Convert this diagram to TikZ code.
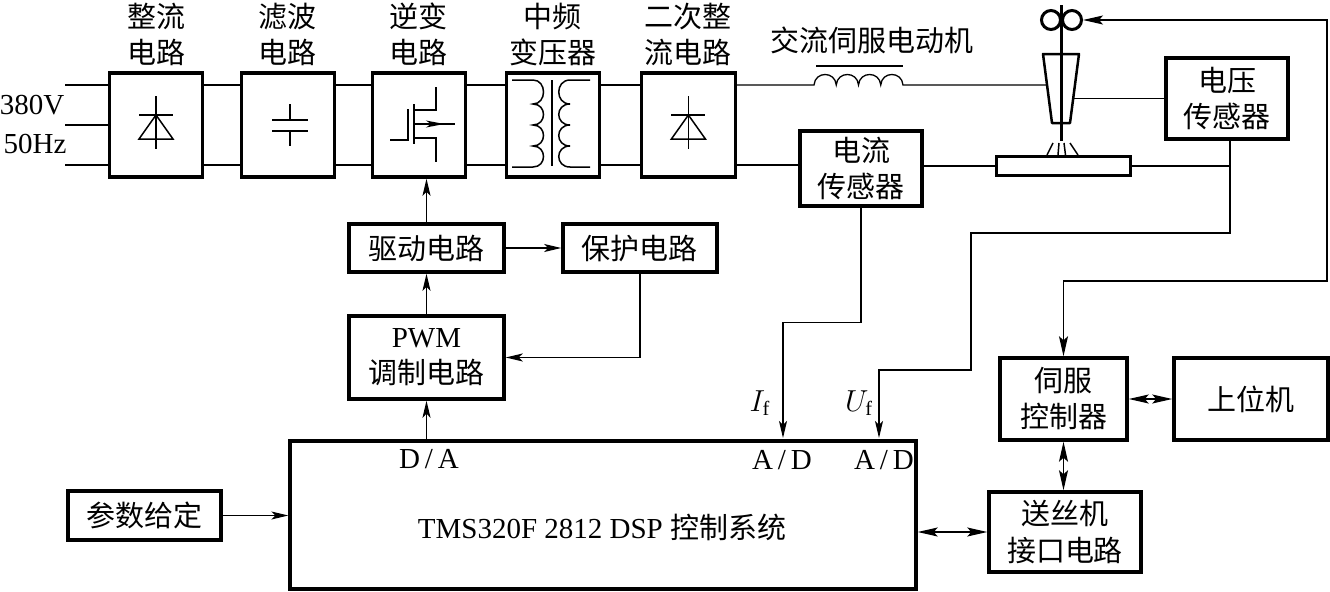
\documentclass[tikz,border=0pt]{standalone}
\usepackage{fontspec}
\setmainfont{Liberation Serif}
\newfontfamily\cjk{Noto Sans CJK SC}
\usepackage{amsmath}
\usetikzlibrary{positioning, arrows.meta}
\newcommand{\diagfont}{\fontsize{16.5}{20.5}\selectfont}

\tikzset{
  blockbox/.style={draw, rectangle, line width=0.07cm, inner sep=0pt, align=center, font=\diagfont\cjk},
  titletext/.style={inner sep=0pt, align=center, font=\diagfont\cjk},
  plaintext/.style={inner sep=0pt, align=center, font=\diagfont},
  thinline/.style={line width=0.026cm},
  symline/.style={line width=0.03cm},
  arr/.style={thinline, -{Stealth[length=0.34cm, width=0.16cm, inset=0.08cm]}},
  dblarr/.style={thinline, {Stealth[length=0.4cm, width=0.18cm, inset=0.08cm]}-{Stealth[length=0.4cm, width=0.18cm, inset=0.08cm]}}
}

\begin{document}
\begin{tikzpicture}[x=0.02cm, y=-0.02cm]
\useasboundingbox (0,0) rectangle (1330,592);

% main power path
\node[blockbox, minimum width=1.86cm, minimum height=2.08cm] (rect) at (156,125) {};
\node[blockbox, minimum width=1.86cm, minimum height=2.08cm, right=0.71cm of rect] (filter) {};
\node[blockbox, minimum width=1.86cm, minimum height=2.08cm, right=0.69cm of filter] (inverter) {};
\node[blockbox, minimum width=1.86cm, minimum height=2.08cm, right=0.75cm of inverter] (trans) {};
\node[blockbox, minimum width=1.88cm, minimum height=2.08cm, right=0.77cm of trans] (secrect) {};

\node[titletext, above=0.1cm of rect] (rectlabel) {整流\\电路};
\node[titletext, above=0.1cm of filter] (filterlabel) {滤波\\电路};
\node[titletext, above=0.1cm of inverter] (inverterlabel) {逆变\\电路};
\node[titletext, above=0.1cm of trans] (translabel) {中频\\变压器};
\node[titletext, above=0.1cm of secrect] (secrectlabel) {二次整\\流电路};
\node[titletext] (motorlabel) at (872,40) {交流伺服电动机};

\node[plaintext] (volt) at (32,105) {380V};
\node[plaintext] (freq) at (35,144) {50Hz};

% sensors and welding torch
\node[blockbox, minimum width=2.44cm, minimum height=1.5cm] (cursens) at (861,168.5) {电流\\传感器};
\node[blockbox, minimum width=2.44cm, minimum height=1.62cm] (volsens) at (1227,98.5) {电压\\传感器};
\node[draw, rectangle, line width=0.06cm, minimum width=2.67cm, minimum height=0.37cm] (plate) at (1063.5,166) {};
\node[draw, circle, line width=0.06cm, minimum size=0.38cm, inner sep=0pt] (rollerl) at (1051,20) {};
\node[draw, circle, line width=0.06cm, minimum size=0.38cm, inner sep=0pt] (rollerr) at (1072,20) {};
\coordinate (torchl) at (1047,85);
\coordinate (torchr) at (1073,98.5);
\coordinate (voltap) at (1230,166);

% control side
\node[blockbox, minimum width=3.1cm, minimum height=0.96cm] (driver) at (426.5,248) {驱动电路};
\node[blockbox, minimum width=3.08cm, minimum height=0.96cm, right=1.11cm of driver] (protect) {保护电路};
\node[blockbox, minimum width=3.1cm, minimum height=1.66cm, below=0.81cm of driver, font=\diagfont] (pwm) {PWM\\{\cjk 调制电路}};
\node[blockbox, minimum width=12.52cm, minimum height=2.96cm] (dsp) at (603,515) {};
\node[plaintext] (dsptext) at (602,527) {TMS320F 2812 DSP {\cjk 控制系统}};
\node[blockbox, minimum width=3.06cm, minimum height=0.98cm] (param) at (144.5,515.5) {参数给定};
\node[blockbox, minimum width=2.54cm, minimum height=1.64cm] (servo) at (1063.5,399) {伺服\\控制器};
\node[blockbox, minimum width=3.08cm, minimum height=1.64cm, right=0.87cm of servo] (host) {上位机};
\node[blockbox, minimum width=3.04cm, minimum height=1.6cm] (feeder) at (1065,532) {送丝机\\接口电路};

\node[plaintext] (da) at (429,459) {D\,/\,A};
\node[plaintext] (adi) at (782,460) {A\,/\,D};
\node[plaintext] (adu) at (884,460) {A\,/\,D};
\node[plaintext] (ilabel) at (760,403) {$I_{\mathrm{f}}$};
\node[plaintext] (ulabel) at (859,403) {$U_{\mathrm{f}}$};
\coordinate (ifin) at (783,438);
\coordinate (ufin) at (879,438);

% two-wire links
\foreach \a/\b in {rect/filter, filter/inverter, inverter/trans, trans/secrect} {
  \draw[thinline] ([yshift=0.8cm]\a.east) -- ([yshift=0.8cm]\b.west);
  \draw[thinline] ([yshift=-0.8cm]\a.east) -- ([yshift=-0.8cm]\b.west);
}
\draw[thinline] ([yshift=0.8cm]rect.west) -- ++(-43,0);
\draw[thinline] (rect.west) -- ++(-43,0);
\draw[thinline] ([yshift=-0.8cm]rect.west) -- ++(-43,0);

% motor winding
\draw[thinline] ([yshift=0.8cm]secrect.east) -- (814,85)
  \foreach \i in {1,...,4} { .. controls +(1,-14) and +(-1,-14) .. ++(22.25,0) } -- (torchl);
\draw[thinline] (816,66) -- (903,66);

\draw[thinline] ([yshift=-0.8cm]secrect.east) -- ([yshift=-0.8cm]secrect.east -| cursens.west);
\draw[thinline] (cursens.east |- plate.east) -- (plate.west);
\draw[thinline] (plate.east) -- (voltap);
\draw[thinline] (torchr) -- (volsens.west);

% rectifier symbols
\foreach \n in {rect, secrect} {
  \begin{scope}[shift={(\n.center)}]
    \draw[symline] (0,-29) -- (0,24);
    \draw[symline] (-17,-10) -- (17,-10);
    \draw[symline] (-17,14) -- (17,14) -- (0,-10) -- cycle;
  \end{scope}
}

% capacitor
\draw[symline] (290,104) -- (290,120) (272,120) -- (308,120);
\draw[symline] (272,131) -- (308,131) (290,131) -- (290,146);

% switch
\draw[symline] (390,140) -- (408,140) -- (408,109);
\draw[line width=0.05cm] (414,104) -- (414,144);
\draw[symline] (414,110) -- (436,110) -- (436,87);
\draw[symline] (414,138) -- (436,138) -- (436,162);
\draw[symline] (414,124) -- (455,124);
\draw[symline, -{Stealth[length=0.36cm, width=0.14cm, inset=0.1cm]}] (420,124) -- (444,124);

% transformer
\draw[symline] (512,80) -- (533,80)
  \foreach \yy in {104,125,146,167} { .. controls +(14,0) and +(14,0) .. (533,\yy) } -- (512,167);
\draw[symline] (590,80) -- (570,80)
  \foreach \yy in {104,125,146,167} { .. controls +(-15,0) and +(-15,0) .. (570,\yy) } -- (590,167);
\draw[symline] (552,80) -- (552,166);

% torch
\draw[line width=0.05cm, line join=round] (1043,54) -- (1079,54) -- (1070,123) -- (1052,123) -- cycle;
\draw[line width=0.06cm] (1061,5) -- (1061,141);
\draw[symline] (1053,143) -- (1047,155);
\draw[symline] (1059,143) -- (1058,155);
\draw[symline] (1064,143) -- (1065.5,155);
\draw[symline] (1070,143) -- (1078,155);

% signal paths
\draw[arr] (driver.north) -- (driver.north |- inverter.south);
\draw[arr] (pwm.north) -- (driver.south);
\draw[arr] (pwm.south |- dsp.north) -- (pwm.south);
\draw[arr] (driver.east) -- (protect.west);
\draw[arr] (protect.south) |- (pwm.east);
\draw[arr] (param.east) -- (param.east -| dsp.west);
\draw[arr] (cursens.south) -- ++(0,115) -| (ifin);
\draw[thinline] (volsens.south -| voltap) -- (voltap);
\draw[arr] (voltap) -- ++(0,67) -- ++(-259,0) -- ++(0,137) -| (ufin);
\draw[dblarr] (rollerr.east) -| (1327,281) -| (servo.north);
\draw[dblarr] (servo.east |- host.west) -- (host.west);
\draw[dblarr] (servo.south) -- (servo.south |- feeder.north);
\draw[dblarr] (dsp.east |- feeder.west) -- (feeder.west);
\end{tikzpicture}
\end{document}
